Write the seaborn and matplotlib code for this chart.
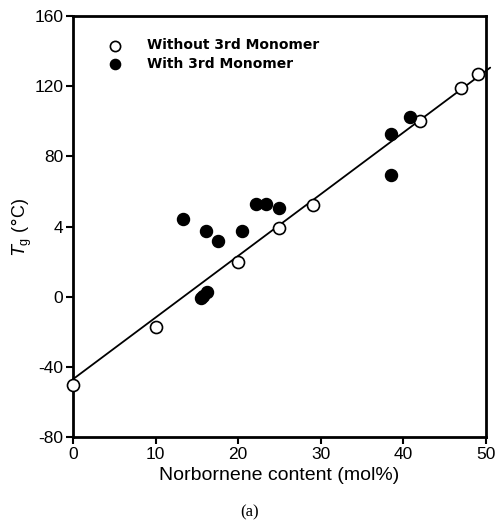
import numpy as np
import pandas as pd
import matplotlib
matplotlib.use("Agg")
import matplotlib.pyplot as plt
import seaborn as sns

# Data
open_x = [0, 10, 20, 25, 29, 42, 47, 49]
open_y = [-50, -17, 20, 39, 52.5, 100, 119, 127]

filled_x = [13.3, 15.5, 15.8, 16.2, 16.1, 17.6, 20.5, 22.2, 23.4, 24.9, 38.5, 38.5, 40.8]
filled_y = [44.3, -1.0, 0.5, 2.5, 37.4, 31.7, 37.6, 52.8, 52.8, 50.6, 92.7, 69.4, 102.4]

fit_x = [0, 50.5]
fit_y = [-47, 130.5]

y_ticks = [-80, -40, 0, 40, 80, 120, 160]
y_tick_labels = ["-80", "-40", "0", "4", "80", "120", "160"]
x_ticks = [0, 10, 20, 30, 40, 50]

sns.set_theme(style="ticks")
plt.rcParams['font.family'] = ['Liberation Sans', 'DejaVu Sans']
plt.rcParams['text.color'] = 'black'
plt.rcParams['axes.labelcolor'] = 'black'

fig = plt.figure(figsize=(4.96, 5.28), dpi=100)
ax = fig.add_axes([0.147, 0.172, 0.833, 0.798])

sns.lineplot(x=fit_x, y=fit_y, ax=ax, color="black", linewidth=1.3, clip_on=False)

df_open = pd.DataFrame({"x": open_x, "y": open_y})
df_fill = pd.DataFrame({"x": filled_x, "y": filled_y})
sns.scatterplot(data=df_open, x="x", y="y", ax=ax, s=75, facecolor="white",
                edgecolor="black", linewidth=1.2, label="Without 3rd Monomer",
                zorder=3, clip_on=False)
sns.scatterplot(data=df_fill, x="x", y="y", ax=ax, s=75, color="black",
                edgecolor="black", linewidth=1.0, label="With 3rd Monomer",
                zorder=4, clip_on=False)

ax.set_xlim(0, 50)
ax.set_ylim(-80, 160)
ax.set_xticks(x_ticks)
ax.set_xticklabels([str(t) for t in x_ticks])
ax.set_yticks(y_ticks)
ax.set_yticklabels(y_tick_labels)

for s in ax.spines.values():
    s.set_linewidth(2)
    s.set_color("black")
ax.tick_params(axis="both", direction="out", length=5, width=1.5, labelsize=12.5,
               colors="black", pad=2)

ax.set_xlabel("Norbornene content (mol%)", fontsize=14, labelpad=4, color="black")
ax.set_ylabel(r"$T_\mathregular{g}$ ($\degree$C)", fontsize=13, labelpad=2, color="black")
ax.yaxis.set_label_coords(-0.095, 0.5)

leg = ax.legend(loc="upper left", frameon=False, markerscale=0.85,
                prop={"family": "DejaVu Sans", "weight": "bold", "size": 10},
                handletextpad=1.3, borderaxespad=0.0, labelspacing=0.35,
                bbox_to_anchor=(0.055, 0.96))
for t in leg.get_texts():
    t.set_color("black")

fig.text(0.503, 0.022, "(a)", fontsize=12, family="Liberation Serif", ha="center",
         color="black")

fig.savefig("out.png", dpi=100, facecolor="white")
